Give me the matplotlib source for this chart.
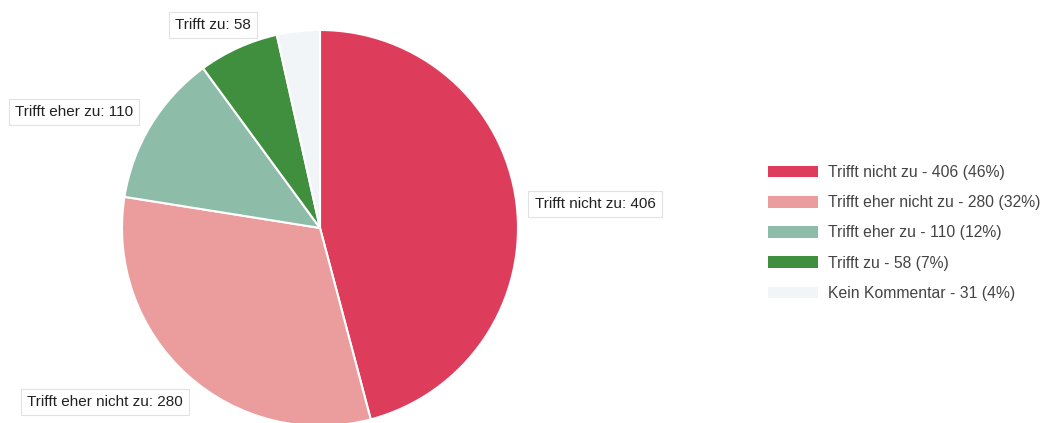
import matplotlib.pyplot as plt
from matplotlib.patches import Patch

plt.rcParams['font.family'] = ['Liberation Sans', 'DejaVu Sans']

categories = ['Trifft nicht zu', 'Trifft eher nicht zu', 'Trifft eher zu', 'Trifft zu', 'Kein Kommentar']
values = [406, 280, 110, 58, 31]
colors = ['#dd3d5b', '#eb9c9c', '#8dbda9', '#3f8f3f', '#f2f5f8']

W, H = 1047, 423
fig = plt.figure(figsize=(W / 100, H / 100), dpi=100)

# pie centre (320, 228) px, radius 198 px
cx, cy, r = 320, 228, 198
ax = fig.add_axes([(cx - r) / W, (H - cy - r) / H, 2 * r / W, 2 * r / H])
ax.pie(values, colors=colors, startangle=90, counterclock=False,
       wedgeprops=dict(edgecolor='white', linewidth=1.5))
ax.set_xlim(-1, 1)
ax.set_ylim(-1, 1)
ax.set_aspect('equal')

# slice labels (centre positions in pixels)
label_pos = [(595, 204), (105, 402), (74, 112), (213, 25)]
for cat, val, (px, py) in zip(categories, values, label_pos):
    fig.text(px / W, 1 - py / H, f'{cat}: {val}', ha='center', va='center',
             fontsize=11, color='#222222',
             bbox=dict(boxstyle='square,pad=0.4', facecolor='white',
                       edgecolor='#e2e2e2', linewidth=0.8))

total = sum(values)
labels = [f'{c} - {v} ({round(v / total * 100)}%)' for c, v in zip(categories, values)]
handles = [Patch(facecolor=c, edgecolor='none') for c in colors]
fig.legend(handles, labels, loc='upper left', bbox_to_anchor=(768 / W, 1 - 165 / H),
           frameon=False, fontsize=11.3, handlelength=3.2, handleheight=0.76,
           handletextpad=0.64, labelspacing=0.97, borderpad=0, borderaxespad=0,
           labelcolor='#444444')

fig.savefig('out.png', dpi=100)
